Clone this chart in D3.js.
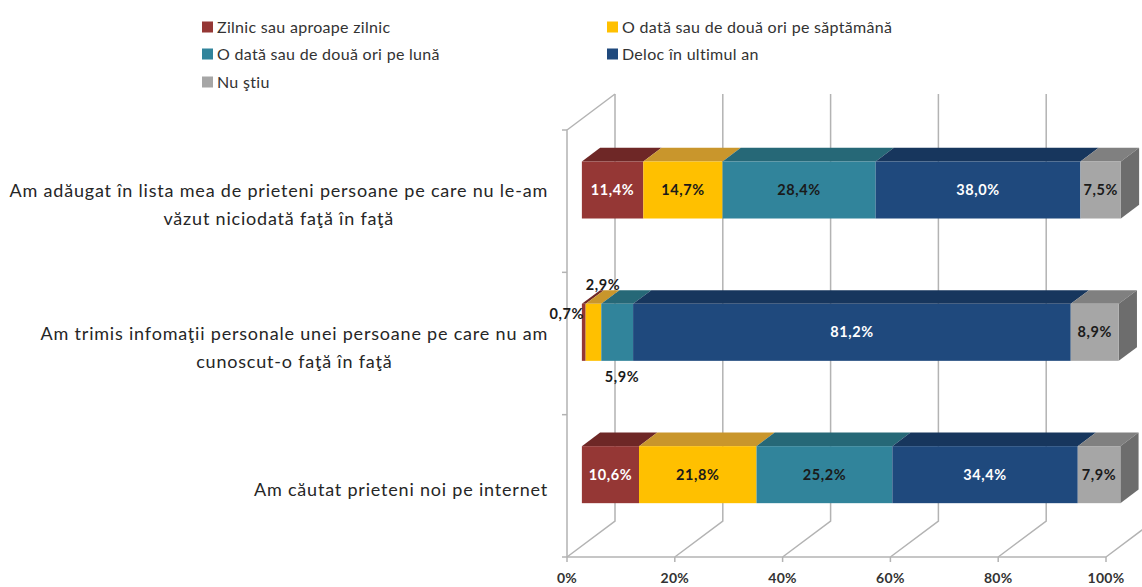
<!DOCTYPE html>
<html>
<head>
<meta charset="utf-8">
<script src="https://cdn.jsdelivr.net/npm/d3@7"></script>
<style>
  body { margin: 0; background: #fff; }
  svg { display: block; }
  text { font-family: Lato, "Open Sans", sans-serif; }
</style>
</head>
<body>
<svg id="chart" width="1142" height="587"></svg>
<script>
// categories (line breaks as in the original labels)
const categories = [
    "Am adăugat în lista mea de prieteni persoane pe care nu le-am\nvăzut niciodată faţă în faţă",
    "Am trimis infomaţii personale unei persoane pe care nu am\ncunoscut-o faţă în faţă",
    "Am căutat prieteni noi pe internet"
];

const seriesNames = [
    "Zilnic sau aproape zilnic",
    "O dată sau de două ori pe săptămână",
    "O dată sau de două ori pe lună",
    "Deloc în ultimul an",
    "Nu ştiu"
];

// values in %, one per category
const zilnic = [11.4, 0.7, 10.6];
const saptamana = [14.7, 2.9, 21.8];
const luna = [28.4, 5.9, 25.2];
const deloc = [38.0, 81.2, 34.4];
const nuStiu = [7.5, 8.9, 7.9];

const xTicks = [0, 20, 40, 60, 80, 100];

const seriesValues = [zilnic, saptamana, luna, deloc, nuStiu];

// face / top / label colours per series
const faceColors = ['#953735', '#ffc000', '#31849b', '#1f497d', '#a6a6a6'];
const topColors = ['#6e2726', '#c9962c', '#266877', '#17365d', '#808080'];
const labelColors = ['#fff', '#1a1a1a', '#1a1a1a', '#fff', '#1a1a1a'];

const svg = d3.select('#chart');

// front plane scales + depth vector for the fake 3D
const x = d3.scaleLinear().domain([0, 100]).range([567, 1106]);
const y = d3.scaleBand().domain(d3.range(categories.length)).range([130, 557]);
const depth = { dx: 48, dy: -36 };
const barFront = 0.31, barBack = 0.69, barHalf = 28.5;

function P(px, py, d) {
    return [px + depth.dx * d, py + depth.dy * d];
}

const grid = svg.append('g')
    .attr('fill', 'none')
    .attr('stroke', '#b3b3b3')
    .attr('stroke-width', 1.5);

// back wall grid lines + floor diagonals
xTicks.forEach(t => {
    const [bx, by] = P(x(t), y.range()[1], 1);
    const [tx, ty] = P(x(t), y.range()[0], 1);
    grid.append('path').attr('d', d3.line()([[x(t), y.range()[1]], [bx, by], [tx, ty]]));
    grid.append('line')
        .attr('x1', x(t)).attr('x2', x(t))
        .attr('y1', y.range()[1]).attr('y2', y.range()[1] + 5);
});

// floor front edge
grid.append('line')
    .attr('x1', x(0)).attr('x2', x(100))
    .attr('y1', y.range()[1]).attr('y2', y.range()[1]);

// left wall front edge + top diagonal
grid.append('path').attr('d', d3.line()([
    P(x(0), y.range()[0], 1), [x(0), y.range()[0]], [x(0), y.range()[1]]
]));

// category ticks on left wall
[y.range()[0], ...d3.range(categories.length).map(i => y(i) + y.bandwidth())].forEach(v => {
    grid.append('line')
        .attr('x1', x(0) - 5).attr('x2', x(0))
        .attr('y1', v).attr('y2', v);
});

// stacked data
const table = categories.map((c, i) => {
    const row = { cat: i };
    seriesNames.forEach((s, k) => { row[s] = seriesValues[k][i]; });
    return row;
});
const stacked = d3.stack().keys(seriesNames)(table);

const bars = svg.append('g');

stacked.forEach((layer, k) => {
    layer.forEach((seg, i) => {
        const cy = y(i) + y.bandwidth() / 2;
        const yTop = cy - barHalf, yBot = cy + barHalf;
        const x0 = x(seg[0]), x1 = x(seg[1]);

        // top face
        bars.append('path')
            .attr('fill', topColors[k])
            .attr('d', d3.line()([
                P(x0, yTop, barFront), P(x1, yTop, barFront),
                P(x1, yTop, barBack), P(x0, yTop, barBack)
            ]) + 'Z');

        // right side, only visible on the last segment
        if (k === stacked.length - 1) {
            bars.append('path')
                .attr('fill', '#6d6d6d')
                .attr('d', d3.line()([
                    P(x1, yTop, barFront), P(x1, yTop, barBack),
                    P(x1, yBot, barBack), P(x1, yBot, barFront)
                ]) + 'Z');
        }

        // front face
        const [fx0, fy0] = P(x0, yTop, barFront);
        const [fx1] = P(x1, yTop, barFront);
        bars.append('rect')
            .attr('x', fx0).attr('y', fy0)
            .attr('width', fx1 - fx0).attr('height', barHalf * 2)
            .attr('fill', faceColors[k]);
    });
});

// data labels; the thin segments of the second bar are moved outside
const moved = {
    '1-0': { x: 584, dy: -18, anchor: 'end' },
    '1-1': { x: 603, dy: -47, anchor: 'middle' },
    '1-2': { x: 622, dy: 45, anchor: 'middle' }
};
const fmt = v => d3.format('.1f')(v).replace('.', ',') + '%';

stacked.forEach((layer, k) => {
    layer.forEach((seg, i) => {
        const cy = y(i) + y.bandwidth() / 2;
        const [fx0, fy] = P(x(seg[0]), cy, barFront);
        const [fx1] = P(x(seg[1]), cy, barFront);
        const m = moved[i + '-' + k];
        svg.append('text')
            .attr('x', m ? m.x : (fx0 + fx1) / 2)
            .attr('y', fy + (m ? m.dy : 0))
            .attr('dy', '0.35em')
            .attr('text-anchor', m ? m.anchor : 'middle')
            .attr('font-size', 14.5)
            .attr('font-weight', 'bold')
            .attr('letter-spacing', 0.6)
            .attr('fill', m ? '#1a1a1a' : labelColors[k])
            .text(fmt(seriesValues[k][i]));
    });
});

// x axis labels
svg.append('g').selectAll('text')
    .data(xTicks)
    .enter()
    .append('text')
    .attr('x', d => x(d))
    .attr('y', 578)
    .attr('dy', '0.35em')
    .attr('text-anchor', 'middle')
    .attr('font-size', 14)
    .attr('font-weight', 'bold')
    .attr('letter-spacing', 0.3)
    .attr('fill', '#333')
    .text(d => d + '%');

// category labels: block right-aligned, lines centred inside it
const catG = svg.append('g');
categories.forEach((c, i) => {
    const lines = c.split('\n');
    const cy = y(i) + y.bandwidth() / 2 + 4;
    const g = catG.append('g');
    const texts = lines.map((line, j) => g.append('text')
        .attr('y', cy + (j - (lines.length - 1) / 2) * 28)
        .attr('dy', '0.35em')
        .attr('text-anchor', 'middle')
        .attr('font-size', 18)
        .attr('letter-spacing', 0.8)
        .attr('fill', '#262626')
        .text(line));
    const maxW = d3.max(texts, t => t.node().getComputedTextLength());
    texts.forEach(t => t.attr('x', 548 - maxW / 2));
});

// legend
const legendPos = [[202, 27], [607, 27], [202, 54], [607, 54], [202, 82]];
const legend = svg.append('g');
seriesNames.forEach((s, k) => {
    const [lx, ly] = legendPos[k];
    legend.append('rect')
        .attr('x', lx).attr('y', ly - 5.5)
        .attr('width', 11).attr('height', 11)
        .attr('fill', faceColors[k]);
    legend.append('text')
        .attr('x', lx + 15).attr('y', ly)
        .attr('dy', '0.35em')
        .attr('font-size', 16)
        .attr('letter-spacing', 0.3)
        .attr('fill', '#333')
        .text(s);
});
</script>
</body>
</html>
